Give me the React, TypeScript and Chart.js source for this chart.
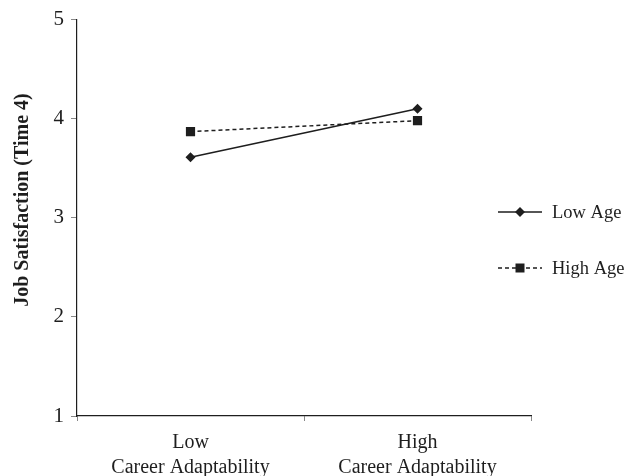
import React, { useEffect, useRef } from "react";
import { Chart, registerables } from "chart.js";

Chart.register(...registerables);

const categories: string[][] = [["Low", "Career Adaptability"], ["High", "Career Adaptability"]];
const lowAge: number[] = [3.61, 4.1];
const highAge: number[] = [3.87, 3.98];
const seriesNames: string[] = ["Low Age", "High Age"];
const yTicks: number[] = [1, 2, 3, 4, 5];
const yTitle = "Job Satisfaction (Time 4)";

const INK = "#1e1e1e";
const SERIF = "'Liberation Serif', 'Times New Roman', serif";

const legendPlugin = {
  id: "customLegend",
  afterDraw(chart: any) {
    const ctx = chart.ctx;
    const area = chart.chartArea;
    const x0 = area.right - 33;
    const x1 = x0 + 44;
    const items = [
      { y: 212, dash: [] as number[], style: "diamond" },
      { y: 268, dash: [4, 3], style: "square" },
    ];
    ctx.save();
    items.forEach((it, i) => {
      ctx.strokeStyle = INK;
      ctx.lineWidth = 1.5;
      ctx.setLineDash(it.dash);
      ctx.beginPath();
      ctx.moveTo(x0, it.y);
      ctx.lineTo(x1, it.y);
      ctx.stroke();
      ctx.setLineDash([]);
      ctx.fillStyle = INK;
      const cx = (x0 + x1) / 2;
      ctx.beginPath();
      if (it.style === "diamond") {
        const r = 5;
        ctx.moveTo(cx, it.y - r);
        ctx.lineTo(cx + r, it.y);
        ctx.lineTo(cx, it.y + r);
        ctx.lineTo(cx - r, it.y);
        ctx.closePath();
      } else {
        const s = 4.5;
        ctx.rect(cx - s, it.y - s, 2 * s, 2 * s);
      }
      ctx.fill();
      ctx.font = `18.5px ${SERIF}`;
      ctx.textBaseline = "middle";
      ctx.textAlign = "left";
      ctx.fillText(seriesNames[i], x1 + 10, it.y + 1);
    });
    // y-axis title
    ctx.save();
    ctx.translate(23, 200);
    ctx.rotate(-Math.PI / 2);
    ctx.font = `bold 20px ${SERIF}`;
    ctx.fillStyle = INK;
    ctx.textAlign = "center";
    ctx.textBaseline = "middle";
    ctx.fillText(yTitle, 0, 0);
    ctx.restore();
    ctx.restore();
  },
};

export default function App() {
  const ref = useRef<HTMLCanvasElement>(null);
  useEffect(() => {
    document.body.style.margin = "0";
    const chart = new Chart(ref.current!, {
      type: "line",
      data: {
        labels: categories,
        datasets: [
          {
            label: seriesNames[0],
            data: lowAge,
            borderColor: INK,
            backgroundColor: INK,
            borderWidth: 1.5,
            pointStyle: "rectRot",
            pointRadius: 5,
            pointBorderWidth: 0,
          },
          {
            label: seriesNames[1],
            data: highAge,
            borderColor: INK,
            backgroundColor: INK,
            borderWidth: 1.5,
            borderDash: [4, 3],
            pointStyle: "rect",
            pointRadius: 6.5,
            pointBorderWidth: 0,
          },
        ],
      },
      options: {
        animation: false,
        responsive: false,
        maintainAspectRatio: false,
        layout: { padding: { top: 19, right: 104, left: 0, bottom: 0 } },
        plugins: { legend: { display: false }, tooltip: { enabled: false } },
        scales: {
          x: {
            offset: true,
            grid: { offset: true, drawOnChartArea: false, drawTicks: true, tickLength: 5, color: "#888" },
            border: { color: INK, width: 1.2 },
            ticks: { color: INK, font: { family: SERIF, size: 20, lineHeight: 1.25 }, padding: 9, maxRotation: 0 },
            afterFit(scale: any) {
              scale.height = 60;
            },
          },
          y: {
            min: 1,
            max: 5,
            afterBuildTicks(scale: any) {
              scale.ticks = yTicks.map((v) => ({ value: v }));
            },
            grid: { drawOnChartArea: false, drawTicks: true, tickLength: 6, color: "#888" },
            border: { color: INK, width: 1.2 },
            ticks: { color: INK, font: { family: SERIF, size: 21 }, padding: 7 },
            title: { display: false },
            afterFit(scale: any) {
              scale.width = 77;
            },
          },
        },
      },
      plugins: [legendPlugin],
    } as any);
    return () => chart.destroy();
  }, []);
  return (
    <div style={{ width: 635, height: 476 }}>
      <canvas ref={ref} width={635} height={476} />
    </div>
  );
}
